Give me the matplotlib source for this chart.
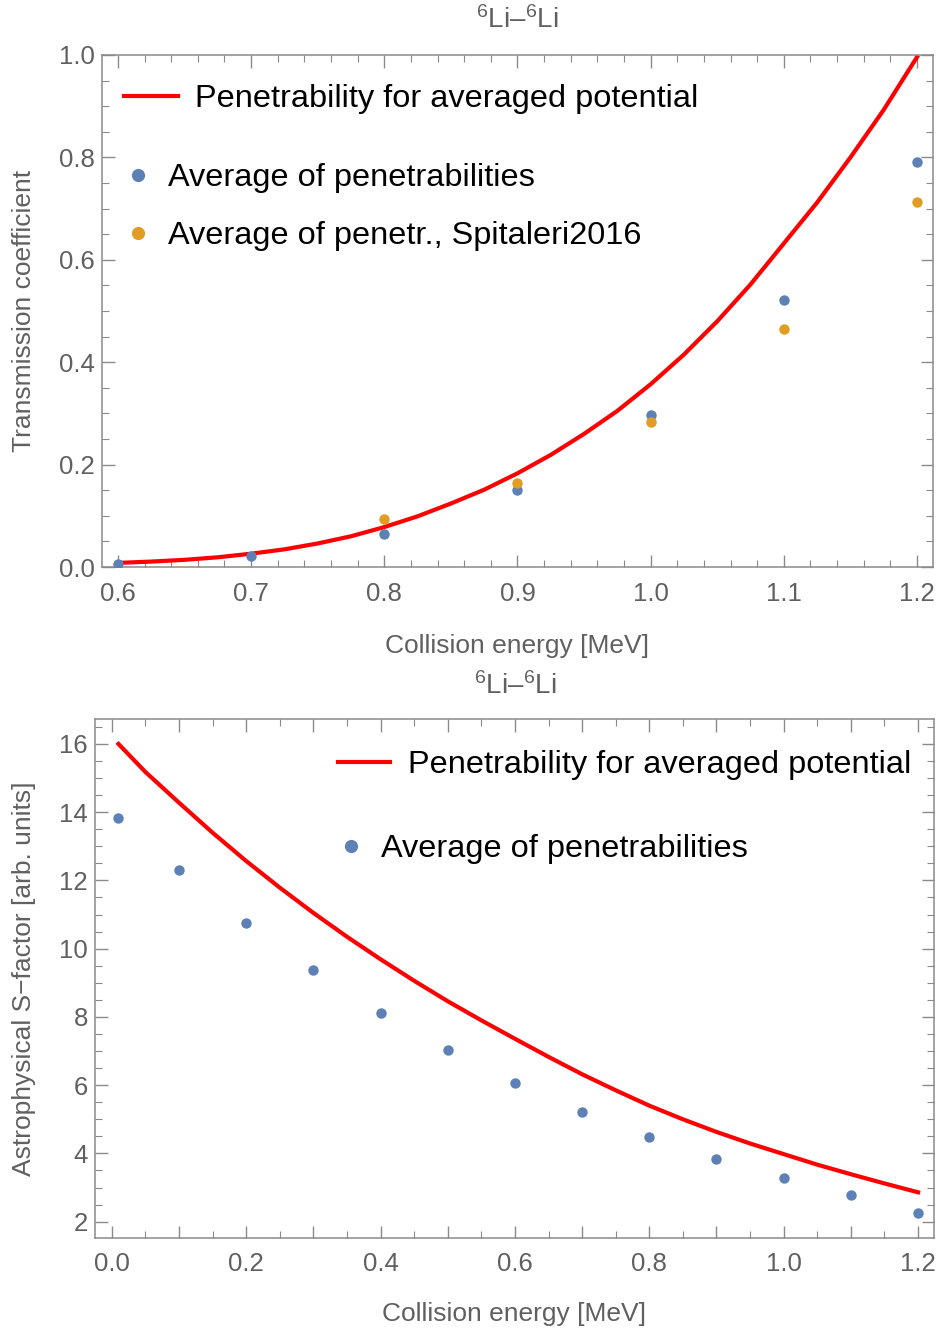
import numpy as np
import matplotlib
matplotlib.use("Agg")
import matplotlib.pyplot as plt
from matplotlib.ticker import MultipleLocator, FuncFormatter
from matplotlib.lines import Line2D

plt.rcParams['font.family'] = ['Liberation Sans', 'DejaVu Sans']
plt.rcParams['mathtext.fontset'] = 'custom'
plt.rcParams['mathtext.rm'] = 'Liberation Sans'
plt.rcParams['mathtext.it'] = 'Liberation Sans'

# --- data: transmission coefficient (top panel)
energy_T = [0.6, 0.7, 0.8, 0.9, 1.0, 1.1, 1.2]
avg_pen_T = [0.006, 0.022, 0.064, 0.150, 0.297, 0.521, 0.791]
energy_spit = [0.8, 0.9, 1.0, 1.1, 1.2]
avg_pen_spit = [0.094, 0.164, 0.284, 0.464, 0.713]
curve_E_T = [0.600, 0.625, 0.650, 0.675, 0.700, 0.725, 0.750, 0.775, 0.800,
             0.825, 0.850, 0.875, 0.900, 0.925, 0.950, 0.975, 1.000, 1.025,
             1.050, 1.075, 1.100, 1.125, 1.150, 1.175, 1.200]
curve_T = [0.008, 0.0106, 0.014, 0.019, 0.026, 0.0345, 0.046, 0.060, 0.078,
           0.099, 0.124, 0.151, 0.183, 0.219, 0.260, 0.305, 0.357, 0.415,
           0.480, 0.552, 0.632, 0.712, 0.800, 0.893, 0.996]

# --- data: astrophysical S-factor (bottom panel)
energy_S = [0.01, 0.1, 0.2, 0.3, 0.4, 0.5, 0.6, 0.7, 0.8, 0.9, 1.0, 1.1, 1.2]
avg_pen_S = [13.84, 12.30, 10.76, 9.37, 8.12, 7.03, 6.06, 5.22, 4.48, 3.83, 3.27, 2.78, 2.25]
curve_E_S = [0.01, 0.05, 0.1, 0.15, 0.2, 0.25, 0.3, 0.35, 0.4, 0.45, 0.5, 0.55, 0.6,
             0.65, 0.7, 0.75, 0.8, 0.85, 0.9, 0.95, 1.0, 1.05, 1.1, 1.15, 1.2]
curve_S = [16.0, 15.18, 14.28, 13.40, 12.57, 11.79, 11.05, 10.35, 9.69, 9.06, 8.46, 7.90, 7.36,
           6.83, 6.32, 5.85, 5.40, 5.00, 4.63, 4.29, 3.98, 3.67, 3.39, 3.12, 2.86]

title = r"$^{6}$Li–$^{6}$Li"
blue = '#5E81B5'
orange = '#E19C24'
red = '#FF0000'
frame_col = '#8a8a8a'
text_col = '#606060'
LEG_FS = 23.4
TICK_FS = 18.5
LAB_FS = 19

fig = plt.figure(figsize=(9.38, 13.31), dpi=100)
ax1 = fig.add_axes([0.1087, 0.574, 0.886, 0.3847])
ax2 = fig.add_axes([0.101, 0.0701, 0.8948, 0.3897])


def style_axes(ax):
    for s in ax.spines.values():
        s.set_color(frame_col)
        s.set_linewidth(1.1)
    ax.tick_params(which='both', direction='in', top=True, right=True,
                   color=frame_col, labelcolor=text_col, labelsize=TICK_FS)
    ax.tick_params(which='major', length=9, width=1.0)
    ax.tick_params(which='minor', length=5, width=0.8)
    ax.tick_params(axis='x', pad=10.5)
    ax.tick_params(axis='y', pad=5)


# top panel
ax1.plot(curve_E_T, curve_T, color=red, lw=3.0, zorder=2, solid_joinstyle='round')
ax1.plot(energy_T, avg_pen_T, 'o', color=blue, ms=7.5, mec='none', zorder=3)
ax1.plot(energy_spit, avg_pen_spit, 'o', color=orange, ms=7.5, mec='none', zorder=4)
ax1.set_xlim(0.588, 1.212)
ax1.set_ylim(0, 1)
ax1.xaxis.set_major_locator(MultipleLocator(0.1))
ax1.xaxis.set_minor_locator(MultipleLocator(0.02))
ax1.yaxis.set_major_locator(MultipleLocator(0.2))
ax1.yaxis.set_minor_locator(MultipleLocator(0.05))
ax1.xaxis.set_major_formatter(FuncFormatter(lambda v, p: "%.1f" % v))
ax1.yaxis.set_major_formatter(FuncFormatter(lambda v, p: "%.1f" % v))
style_axes(ax1)
ax1.set_xlabel("Collision energy [MeV]", fontsize=LAB_FS, color=text_col)
ax1.set_ylabel("Transmission coefficient", fontsize=LAB_FS, color=text_col)
ax1.xaxis.set_label_coords(0.5, -0.130)
ax1.yaxis.set_label_coords(-0.079, 0.5)

h_line = [Line2D([], [], color=red, lw=3.0)]
leg1 = ax1.legend(h_line, ["Penetrability for averaged potential"], loc='center left',
                  bbox_to_anchor=(0.0265, 0.914), frameon=False, fontsize=LEG_FS,
                  handlelength=1.67, handletextpad=0.52, borderpad=0, borderaxespad=0)
ax1.add_artist(leg1)
h_pts = [Line2D([], [], ls='none', marker='o', color=blue, ms=9.5, mec='none'),
         Line2D([], [], ls='none', marker='o', color=orange, ms=9.5, mec='none')]
ax1.legend(h_pts, ["Average of penetrabilities", "Average of penetr., Spitaleri2016"],
           loc='center left', bbox_to_anchor=(0.028, 0.703), frameon=False, fontsize=LEG_FS,
           handlelength=0.8, handletextpad=0.52, labelspacing=0.865, borderpad=0, borderaxespad=0)

# bottom panel
ax2.plot(curve_E_S, curve_S, color=red, lw=3.0, zorder=2, solid_joinstyle='round')
ax2.plot(energy_S, avg_pen_S, 'o', color=blue, ms=7.5, mec='none', zorder=3)
ax2.set_xlim(-0.0253, 1.2238)
ax2.set_ylim(1.53, 16.73)
ax2.xaxis.set_major_locator(MultipleLocator(0.1))
ax2.xaxis.set_minor_locator(MultipleLocator(0.05))
ax2.yaxis.set_major_locator(MultipleLocator(2))
ax2.yaxis.set_minor_locator(MultipleLocator(0.5))
ax2.xaxis.set_major_formatter(FuncFormatter(
    lambda v, p: "%.1f" % v if abs(round(v * 10)) % 2 == 0 else ""))
ax2.yaxis.set_major_formatter(FuncFormatter(lambda v, p: "%d" % round(v)))
style_axes(ax2)
ax2.set_xlabel("Collision energy [MeV]", fontsize=LAB_FS, color=text_col)
ax2.set_ylabel("Astrophysical S\u2212factor [arb. units]", fontsize=LAB_FS, color=text_col)
ax2.xaxis.set_label_coords(0.5, -0.1236)
ax2.yaxis.set_label_coords(-0.07, 0.5)

leg2 = ax2.legend(h_line, ["Penetrability for averaged potential"], loc='center left',
                  bbox_to_anchor=(0.29, 0.911), frameon=False, fontsize=LEG_FS,
                  handlelength=1.6, handletextpad=0.55, borderpad=0, borderaxespad=0)
ax2.add_artist(leg2)
ax2.legend(h_pts[:1], ["Average of penetrabilities"], loc='center left',
           bbox_to_anchor=(0.2895, 0.749), frameon=False, fontsize=LEG_FS,
           handlelength=0.8, handletextpad=0.52, borderpad=0, borderaxespad=0)

fig.text(517 / 938, 1 - 20 / 1331, title, ha='center', va='center', fontsize=20, color=text_col)
fig.text(515 / 938, 1 - 686 / 1331, title, ha='center', va='center', fontsize=20, color=text_col)

fig.savefig("out.png", dpi=100)
